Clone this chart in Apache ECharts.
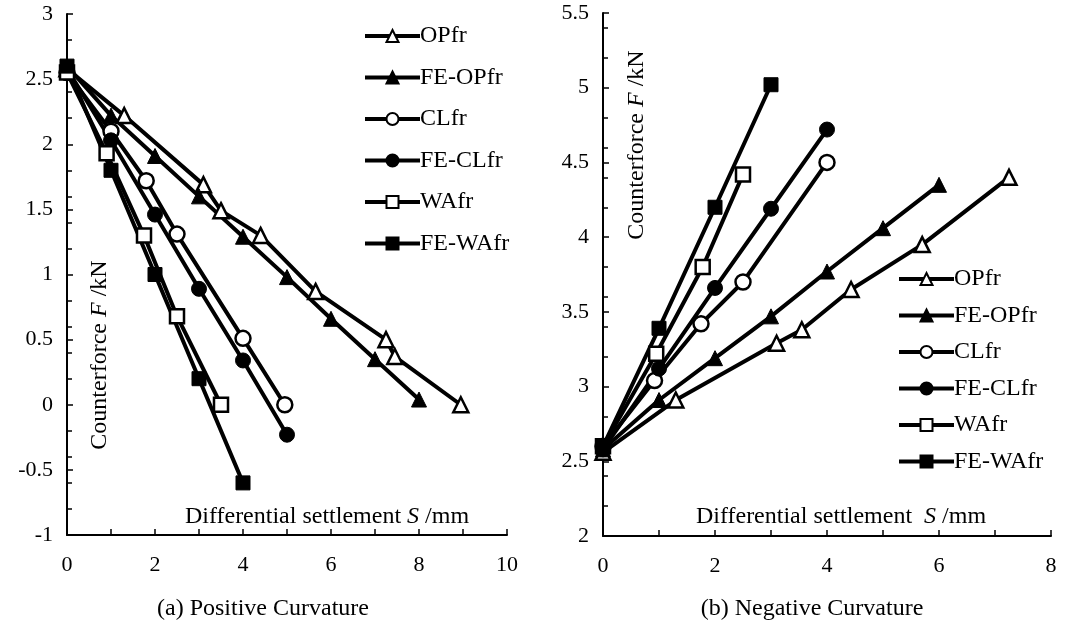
<!DOCTYPE html>
<html>
<head>
<meta charset="utf-8">
<script src="https://cdn.jsdelivr.net/npm/echarts@6/dist/echarts.min.js"></script>
<style>
  html, body { margin: 0; padding: 0; background: #fff; }
  #chart { width: 1065px; height: 637px; }
</style>
</head>
<body>
<div id="chart"></div>
<script>
// Series names (shared by both panels)
const seriesNames = ['OPfr', 'FE-OPfr', 'CLfr', 'FE-CLfr', 'WAfr', 'FE-WAfr'];

// (a) Positive curvature: [settlement S (mm), counterforce F (kN)]
const posOPfr   = [[0, 2.58], [1.3, 2.22], [3.1, 1.69], [3.5, 1.49], [4.4, 1.30], [5.65, 0.87], [7.25, 0.50], [7.45, 0.37], [8.95, 0]];
const posFEOPfr = [[0, 2.60], [1, 2.22], [2, 1.91], [3, 1.60], [4, 1.29], [5, 0.98], [6, 0.66], [7, 0.35], [8, 0.04]];
const posCLfr   = [[0, 2.55], [1, 2.10], [1.8, 1.72], [2.5, 1.31], [4, 0.51], [4.95, 0]];
const posFECLfr = [[0, 2.58], [1, 2.03], [2, 1.46], [3, 0.89], [4, 0.34], [5, -0.23]];
const posWAfr   = [[0, 2.55], [0.9, 1.93], [1.75, 1.30], [2.5, 0.68], [3.5, 0]];
const posFEWAfr = [[0, 2.60], [1, 1.80], [2, 1.00], [3, 0.20], [4, -0.60]];

// (b) Negative curvature
const negOPfr   = [[0, 2.56], [1.3, 2.91], [3.1, 3.29], [3.55, 3.38], [4.43, 3.65], [5.7, 3.95], [7.25, 4.40]];
const negFEOPfr = [[0, 2.58], [1, 2.91], [2, 3.19], [3, 3.47], [4, 3.77], [5, 4.06], [6, 4.35]];
const negCLfr   = [[0, 2.60], [0.92, 3.04], [1.75, 3.42], [2.5, 3.70], [4, 4.50]];
const negFECLfr = [[0, 2.58], [1, 3.12], [2, 3.66], [3, 4.19], [4, 4.72]];
const negWAfr   = [[0, 2.60], [0.95, 3.22], [1.78, 3.80], [2.5, 4.42]];
const negFEWAfr = [[0, 2.60], [1, 3.39], [2, 4.20], [3, 5.02]];

// Axis ranges
const posX = { min: 0, max: 10, step: 2 };
const posY = { min: -1, max: 3, step: 0.5 };
const negX = { min: 0, max: 8, step: 2 };
const negY = { min: 2, max: 5.5, step: 0.5 };

// Captions and axis titles
const captionA = '(a) Positive Curvature';
const captionB = '(b) Negative Curvature';
const xTitleA = 'Differential settlement {i|S} /mm';
const xTitleB = 'Differential settlement  {i|S} /mm';
const yTitle = 'Counterforce {i|F} /kN';

const FONT = "'Liberation Serif', 'Times New Roman', serif";
const BLACK = '#000';

const markerOf = {
  'OPfr':    { symbol: 'triangle', open: true },
  'FE-OPfr': { symbol: 'triangle', open: false },
  'CLfr':    { symbol: 'circle',   open: true },
  'FE-CLfr': { symbol: 'circle',   open: false },
  'WAfr':    { symbol: 'rect',     open: true },
  'FE-WAfr': { symbol: 'rect',     open: false }
};

function makeSeries(name, data, gi) {
  const m = markerOf[name];
  return {
    name: name,
    type: 'line',
    xAxisIndex: gi,
    yAxisIndex: gi * 2,
    data: data,
    symbol: m.symbol,
    symbolSize: m.symbol === 'rect' ? 14 : 15,
    showAllSymbol: true,
    lineStyle: { color: BLACK, width: 4 },
    itemStyle: {
      color: m.open ? '#fff' : BLACK,
      borderColor: BLACK,
      borderWidth: m.open ? 2.5 : 1
    },
    emphasis: { disabled: true },
    animation: false,
    z: 3
  };
}

function xAxisOf(gi, r) {
  return {
    type: 'value', gridIndex: gi,
    min: r.min, max: r.max, interval: 1,
    axisLine: { show: true, onZero: false, lineStyle: { color: BLACK, width: 2 } },
    axisTick: { show: true, inside: true, length: 6, lineStyle: { color: BLACK, width: 1.5 } },
    axisLabel: {
      color: BLACK, fontFamily: FONT, fontSize: 22, margin: 19,
      formatter: v => (Math.round(v) % r.step === 0 ? String(v) : '')
    },
    splitLine: { show: false }
  };
}

function yAxesOf(gi, r) {
  return [{
    type: 'value', gridIndex: gi,
    min: r.min, max: r.max, interval: r.step,
    axisLine: { show: true, onZero: false, lineStyle: { color: BLACK, width: 2 } },
    axisTick: { show: true, inside: true, length: 6, lineStyle: { color: BLACK, width: 1.5 } },
    axisLabel: { color: BLACK, fontFamily: FONT, fontSize: 22, margin: 14 },
    splitLine: { show: false }
  }, {
    // finer tick marks every 0.2
    type: 'value', gridIndex: gi, position: 'left',
    min: r.min, max: r.max, interval: 0.2,
    axisLine: { show: false },
    axisTick: { show: true, inside: true, length: 5, lineStyle: { color: BLACK, width: 1.5 } },
    axisLabel: { show: false },
    splitLine: { show: false }
  }];
}

const legendBase = {
  orient: 'vertical',
  data: seriesNames,
  itemWidth: 55,
  itemHeight: 15,
  selectedMode: false,
  lineStyle: { width: 4, color: BLACK },
  textStyle: { color: BLACK, fontFamily: FONT, fontSize: 24, padding: [0, 0, 0, -5] }
};

const chart = echarts.init(document.getElementById('chart'), null, { renderer: 'canvas' });

function titleText(x, y, text, rot) {
  return {
    type: 'text', x: x, y: y, rotation: rot || 0,
    style: {
      text: text, fill: BLACK, font: "24px " + FONT,
      align: 'center', verticalAlign: 'middle',
      rich: { i: { fontStyle: 'italic', fontFamily: FONT, fontSize: 24, fill: BLACK } }
    }
  };
}

chart.setOption({
  backgroundColor: '#fff',
  animation: false,
  grid: [
    { left: 67, top: 14, width: 440, height: 521 },
    { left: 603, top: 13, width: 448, height: 523 }
  ],
  xAxis: [xAxisOf(0, posX), xAxisOf(1, negX)],
  yAxis: [].concat(yAxesOf(0, posY), yAxesOf(1, negY)),
  legend: [
    Object.assign({}, legendBase, { left: 358, top: 19, itemGap: 17.5 }),
    Object.assign({}, legendBase, { left: 892, top: 262, itemGap: 12.5 })
  ],
  graphic: [
    titleText(327, 517, xTitleA),
    titleText(841, 517, xTitleB),
    titleText(100, 355, yTitle, Math.PI / 2),
    titleText(637, 145, yTitle, Math.PI / 2),
    titleText(263, 609, captionA),
    titleText(812, 609, captionB)
  ],
  series: [
    makeSeries('OPfr', posOPfr, 0),
    makeSeries('FE-OPfr', posFEOPfr, 0),
    makeSeries('CLfr', posCLfr, 0),
    makeSeries('FE-CLfr', posFECLfr, 0),
    makeSeries('WAfr', posWAfr, 0),
    makeSeries('FE-WAfr', posFEWAfr, 0),
    makeSeries('OPfr', negOPfr, 1),
    makeSeries('FE-OPfr', negFEOPfr, 1),
    makeSeries('CLfr', negCLfr, 1),
    makeSeries('FE-CLfr', negFECLfr, 1),
    makeSeries('WAfr', negWAfr, 1),
    makeSeries('FE-WAfr', negFEWAfr, 1)
  ]
});
</script>
</body>
</html>
